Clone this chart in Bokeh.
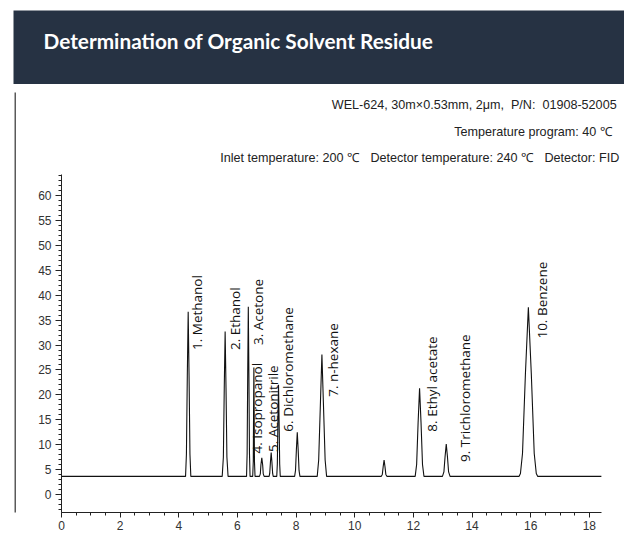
import math
from bokeh.plotting import figure
from bokeh.models import Range1d, Label, SingleIntervalTicker
from bokeh.layouts import column, row
from bokeh.embed import file_html
from bokeh.resources import INLINE
from bokeh.core.properties import value

# ---------------- data ----------------
title_text = "Determination of Organic Solvent Residue"
condition_lines = [
    "WEL-624, 30m×0.53mm, 2μm,\u00a0 P/N:\u00a0 01908-52005",
    "Temperature program: 40\u00a0℃",
    "Inlet temperature: 200\u00a0℃\u00a0\u00a0 Detector temperature: 240\u00a0℃\u00a0\u00a0 Detector: FID",
]

# chromatogram trace (retention time, min / signal)
retention_time = [
    0.00,
    4.23, 4.26, 4.29, 4.32, 4.35, 4.38, 4.41,
    5.48, 5.52, 5.55, 5.58, 5.61, 5.64, 5.68,
    6.31, 6.33, 6.35, 6.37, 6.39, 6.41, 6.43,
    6.52, 6.54, 6.55, 6.56, 6.57, 6.58, 6.60,
    6.75, 6.78, 6.80, 6.83, 6.86, 6.88, 6.91,
    7.08, 7.10, 7.125, 7.15, 7.175, 7.20, 7.22,
    7.34, 7.36, 7.38, 7.40, 7.42, 7.44, 7.46,
    7.95, 7.98, 8.01, 8.04, 8.07, 8.10, 8.13,
    8.72, 8.77, 8.83, 8.88, 8.93, 8.99, 9.04,
    10.90, 10.94, 10.97, 11.00, 11.03, 11.06, 11.10,
    12.06, 12.11, 12.16, 12.21, 12.26, 12.31, 12.36,
    12.99, 13.04, 13.08, 13.12, 13.16, 13.20, 13.25,
    15.60, 15.65, 15.72, 15.82, 15.92, 16.02, 16.12, 16.19, 16.24,
    18.41,
]
signal = [
    3.6,
    3.6, 8.1, 23.8, 36.7, 23.8, 8.1, 3.6,
    3.6, 7.5, 21.3, 32.7, 21.3, 7.5, 3.6,
    3.6, 8.2, 24.4, 37.7, 24.4, 8.2, 3.6,
    3.6, 6.6, 17.0, 25.5, 17.0, 6.6, 3.6,
    3.6, 4.1, 5.9, 7.35, 5.9, 4.1, 3.6,
    3.6, 4.2, 6.5, 8.4, 6.5, 4.2, 3.6,
    3.6, 6.1, 14.8, 22.0, 14.8, 6.1, 3.6,
    3.6, 4.8, 9.0, 12.45, 9.0, 4.8, 3.6,
    3.6, 6.9, 18.5, 28.1, 18.5, 6.9, 3.6,
    3.6, 4.0, 5.6, 6.9, 5.6, 4.0, 3.6,
    3.6, 6.0, 14.4, 21.3, 14.4, 6.0, 3.6,
    3.6, 4.5, 7.6, 10.1, 7.6, 4.5, 3.6,
    3.6, 4.2, 8.2, 24.3, 37.6, 24.3, 8.2, 4.2, 3.6,
    3.6,
]

peak_names = [
    "1. Methanol", "2. Ethanol", "3. Acetone", "4. Isopropanol",
    "5. Acetonitrile", "6. Dichloromethane", "7. n-hexane",
    "8. Ethyl acetate", "9. Trichloromethane", "10. Benzene",
]
label_x = [4.62, 5.90, 6.69, 6.66, 7.21, 7.74, 9.25, 12.62, 13.75, 16.37]
label_y = [29.0, 29.0, 30.0, 8.2, 8.5, 12.6, 19.6, 12.6, 6.5, 31.3]

x_ticks_interval = 2
y_ticks_interval = 5

# ---------------- header band ----------------
header = figure(width=624, height=84, x_range=Range1d(0, 611), y_range=Range1d(0, 74),
                x_axis_type=None, y_axis_type=None, toolbar_location=None,
                output_backend="svg", min_border_left=13, min_border_right=0,
                min_border_top=10, min_border_bottom=0,
                background_fill_color="#263243", border_fill_color="white",
                outline_line_color=None)
header.add_layout(Label(x=30, y=44, text=title_text, text_color="white",
                        text_font="Lato", text_font_style="bold",
                        text_font_size="20.8px", text_baseline="middle",
                        text_align="left"))

# ---------------- left card border ----------------
strip = figure(width=16, height=450, x_axis_type=None, y_axis_type=None,
               toolbar_location=None, output_backend="svg",
               min_border_left=14, min_border_right=0, min_border_top=0,
               min_border_bottom=0, background_fill_color="#5a5a5a",
               border_fill_color="white", outline_line_color=None)

# ---------------- chart ----------------
p = figure(width=608, height=450, x_range=Range1d(0, 19.13),
           y_range=Range1d(-3.65, 80.75), toolbar_location=None,
           output_backend="svg", min_border_left=45, min_border_right=2,
           min_border_top=8, min_border_bottom=22,
           background_fill_color="white", border_fill_color="white",
           outline_line_color=None)
p.xgrid.visible = False
p.ygrid.visible = False

p.xaxis.ticker = SingleIntervalTicker(interval=x_ticks_interval, num_minor_ticks=4)
p.yaxis.ticker = SingleIntervalTicker(interval=y_ticks_interval, num_minor_ticks=5)
p.xaxis.bounds = (0, 18.41)
p.yaxis.bounds = (-3.65, 64.2)

for ax in (p.xaxis[0], p.yaxis[0]):
    ax.axis_line_color = "#222222"
    ax.axis_line_width = 1
    ax.major_tick_line_color = "#222222"
    ax.minor_tick_line_color = "#222222"
    ax.major_tick_in = 0
    ax.minor_tick_in = 0
    ax.minor_tick_out = 3
    ax.major_label_text_font = "Liberation Sans"
    ax.major_label_text_font_size = "12px"
    ax.major_label_text_color = "#333333"
p.xaxis.major_tick_out = 5
p.yaxis.major_tick_out = 6
p.xaxis.major_label_standoff = 3
p.yaxis.major_label_standoff = 4

p.line(retention_time, signal, line_color="#111111", line_width=1.1)

p.text(x=label_x, y=label_y, text=peak_names, angle=math.pi / 2,
       text_align="left", text_baseline="middle",
       text_font=value("Open Sans"), text_font_size=value("13.5px"),
       text_color="#111111")

cond_x = [18.93, 18.80, 19.02]
cond_y = [78.2, 72.8, 67.6]
for t, cx, cy in zip(condition_lines, cond_x, cond_y):
    p.add_layout(Label(x=cx, y=cy, text=t, text_align="right",
                       text_baseline="middle", text_font="Liberation Sans",
                       text_font_size="12.6px", text_color="#222222"))

layout = column(header, row(strip, p, spacing=0), spacing=0)
open("out.html", "w").write(file_html(layout, INLINE))
